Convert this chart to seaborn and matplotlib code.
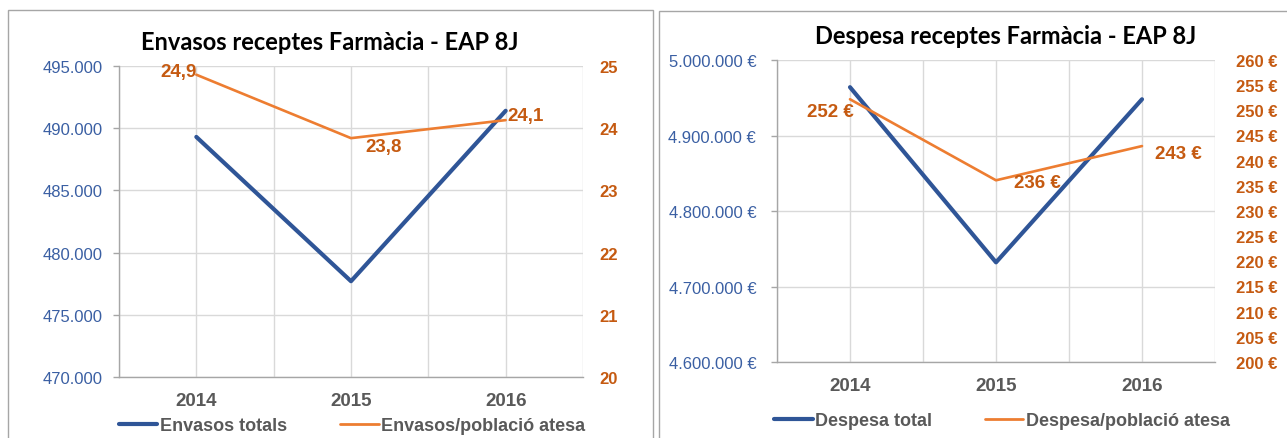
import matplotlib
matplotlib.use("Agg")
import matplotlib.pyplot as plt
import matplotlib.patches as mpatches
from matplotlib.lines import Line2D
from matplotlib.ticker import FixedLocator, FuncFormatter
import seaborn as sns


# ---------------------------------------------
# Dades
# ---------------------------------------------
anys = ["2014", "2015", "2016"]

envasos_totals = [489300, 477700, 491400]
envasos_poblacio = [24.86, 23.84, 24.13]

despesa_total = [4964000, 4732000, 4948000]
despesa_poblacio = [252.2, 236.1, 242.9]

titol_envasos = "Envasos receptes Farmàcia - EAP 8J"
titol_despesa = "Despesa receptes Farmàcia - EAP 8J"
llegenda_envasos = ["Envasos totals", "Envasos/població atesa"]
llegenda_despesa = ["Despesa total", "Despesa/població atesa"]

BLAU = "#2F5597"
TARONJA = "#ED7D31"
TARONJA_FOSC = "#C55A11"
BLAU_TEXT = "#3A5FA3"
GRIS = "#595959"
GRID = "#D9D9D9"

LLETRA = ["Liberation Sans", "DejaVu Sans"]
TITOL = ["Lato", "DejaVu Sans"]


def miles(v):
    return f"{v:,.0f}".replace(",", ".")


def preparar_eixos(ax, ax2, pad_esq, pad_dre):
    ax.set_xlim(-0.5, 2.5)
    ax.set_xticks([0, 1, 2])
    ax.set_xticklabels(anys, fontsize=13.5, fontweight="bold", color=GRIS,
                       family=LLETRA)
    ax.xaxis.set_minor_locator(FixedLocator([-0.5, 0.5, 1.5, 2.5]))
    ax.tick_params(axis="x", which="major", length=0, pad=11)
    ax.tick_params(axis="x", which="minor", length=5, width=1, color="#A6A6A6",
                   direction="out")
    ax.tick_params(axis="y", length=4, width=1, color="#A6A6A6", pad=pad_esq)
    ax.grid(True, axis="both", which="both", color=GRID, linewidth=1)
    ax.set_axisbelow(True)
    for s in ["top", "right"]:
        ax.spines[s].set_visible(False)
    for s in ["left", "bottom"]:
        ax.spines[s].set_visible(True)
        ax.spines[s].set_color("#A6A6A6")
        ax.spines[s].set_linewidth(1)
    for s in ax2.spines.values():
        s.set_visible(False)
    ax2.tick_params(axis="y", length=0, pad=pad_dre)
    ax2.grid(False)
    ax.set_xlabel("")
    ax.set_ylabel("")
    ax2.set_ylabel("")
    for lab in ax.get_yticklabels():
        lab.set_color(BLAU_TEXT)
        lab.set_family(LLETRA)
        lab.set_fontsize(12)
    for lab in ax2.get_yticklabels():
        lab.set_color(TARONJA_FOSC)
        lab.set_family(LLETRA)
        lab.set_fontsize(12)
        lab.set_fontweight("bold")


def etiqueta(ax, x, y, text, dx, dy, ha):
    ax.annotate(text, (x, y), xytext=(dx, dy), textcoords="offset points",
                ha=ha, va="center", fontsize=13.5, fontweight="bold",
                color=TARONJA_FOSC, family=LLETRA)


def llegenda(fig, etiquetes, cx, cy):
    h = [Line2D([], [], color=BLAU, linewidth=3),
         Line2D([], [], color=TARONJA, linewidth=2)]
    fig.legend(h, etiquetes, loc="center", bbox_to_anchor=(cx / 1287, 1 - cy / 439),
               ncol=2, frameon=False, handlelength=2.15, handletextpad=0.15,
               columnspacing=2.9, prop={"family": LLETRA, "size": 13, "weight": "bold"},
               labelcolor=GRIS, borderaxespad=0, borderpad=0)


sns.set_theme(style="white")
plt.rcParams["font.family"] = LLETRA

fig = plt.figure(figsize=(12.87, 4.39), dpi=100)

# marcs dels dos gràfics
fig.patches.append(mpatches.Rectangle((8 / 1287, -0.1), 645 / 1287, 1.1 - 11 / 439,
                                      transform=fig.transFigure, fill=False,
                                      edgecolor="#A6A6A6", linewidth=1))
fig.patches.append(mpatches.Rectangle((659 / 1287, -0.1), 700 / 1287, 1.1 - 12 / 439,
                                      transform=fig.transFigure, fill=False,
                                      edgecolor="#A6A6A6", linewidth=1))

# =================================================
# GRÀFIC 1 — Envasos
# =================================================
ax1 = fig.add_axes([119 / 1287, 1 - 378 / 439, 464 / 1287, 311 / 439])
ax1b = ax1.twinx()

sns.lineplot(x=anys, y=envasos_totals, ax=ax1, color=BLAU, linewidth=3,
             legend=False)
sns.lineplot(x=anys, y=envasos_poblacio, ax=ax1b, color=TARONJA, linewidth=1.9,
             legend=False)

ax1.set_ylim(470000, 495000)
ax1.set_yticks([470000, 475000, 480000, 485000, 490000, 495000])
ax1.yaxis.set_major_formatter(FuncFormatter(lambda v, p: miles(v)))
ax1b.set_ylim(20, 25)
ax1b.set_yticks([20, 21, 22, 23, 24, 25])
ax1b.yaxis.set_major_formatter(FuncFormatter(lambda v, p: f"{v:.0f}"))
preparar_eixos(ax1, ax1b, 8, 12)

fmt1 = lambda v: f"{v:.1f}".replace(".", ",")
etiqueta(ax1b, 0, envasos_poblacio[0], fmt1(envasos_poblacio[0]), 0, 2, "right")
etiqueta(ax1b, 1, envasos_poblacio[1], fmt1(envasos_poblacio[1]), 10, -6, "left")
etiqueta(ax1b, 2, envasos_poblacio[2], fmt1(envasos_poblacio[2]), 1.5, 3.5, "left")

fig.text(330 / 1287, 1 - 43 / 439, titol_envasos, ha="center", va="center",
         fontsize=17, fontweight="bold", family=TITOL, color="black")

llegenda(fig, llegenda_envasos, 352, 427)

# =================================================
# GRÀFIC 2 — Despesa
# =================================================
ax2 = fig.add_axes([777 / 1287, 1 - 363 / 439, 438 / 1287, 302 / 439])
ax2b = ax2.twinx()

sns.lineplot(x=anys, y=despesa_total, ax=ax2, color=BLAU, linewidth=3,
             legend=False)
sns.lineplot(x=anys, y=despesa_poblacio, ax=ax2b, color=TARONJA, linewidth=1.9,
             legend=False)

ax2.set_ylim(4600000, 5000000)
ax2.set_yticks([4600000, 4700000, 4800000, 4900000, 5000000])
ax2.yaxis.set_major_formatter(FuncFormatter(lambda v, p: miles(v) + " €"))
ax2b.set_ylim(200, 260)
ax2b.set_yticks(list(range(200, 261, 5)))
ax2b.yaxis.set_major_formatter(FuncFormatter(lambda v, p: f"{v:.0f} €"))
preparar_eixos(ax2, ax2b, 11, 15)

fmt2 = lambda v: f"{v:.0f} €"
etiqueta(ax2b, 0, despesa_poblacio[0], fmt2(despesa_poblacio[0]), 3, -8.6, "right")
etiqueta(ax2b, 1, despesa_poblacio[1], fmt2(despesa_poblacio[1]), 13, -1.5, "left")
etiqueta(ax2b, 2, despesa_poblacio[2], fmt2(despesa_poblacio[2]), 9.4, -5, "left")

fig.text(1006 / 1287, 1 - 37 / 439, titol_despesa, ha="center", va="center",
         fontsize=17, fontweight="bold", family=TITOL, color="black")

llegenda(fig, llegenda_despesa, 1002, 422)

fig.savefig("out.png", dpi=100, facecolor="white")
